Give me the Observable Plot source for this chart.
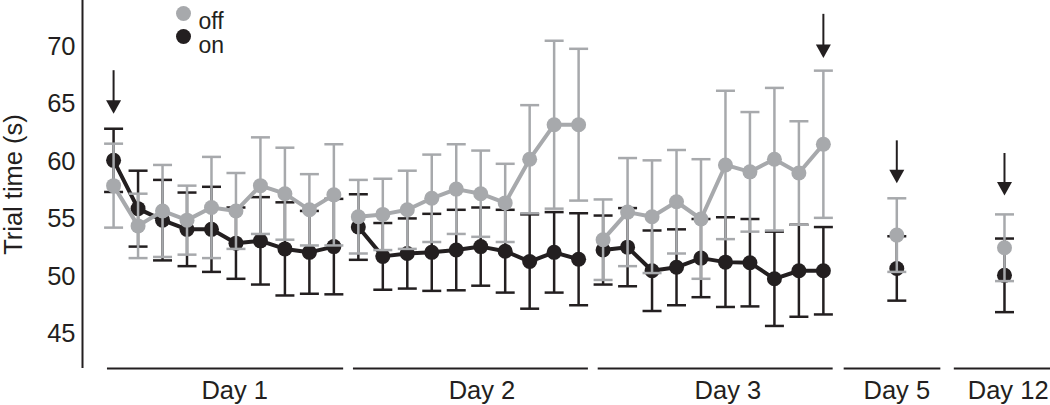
<!DOCTYPE html>
<html>
<head>
<meta charset="utf-8">
<script src="https://cdn.jsdelivr.net/npm/d3@7"></script>
<script src="https://cdn.jsdelivr.net/npm/@observablehq/plot@0.6"></script>
<style>
  html, body { margin: 0; padding: 0; background: #fff; }
  #chart { width: 1050px; height: 405px; }
</style>
</head>
<body>
<div id="chart"></div>
<script>
// ---- data ----
const dayNames = ["Day 1", "Day 2", "Day 3", "Day 5", "Day 12"];
const trialsPerDay = [10, 10, 10, 1, 1];
const trialX = [0, 1, 2, 3, 4, 5, 6, 7, 8, 9,
                10, 11, 12, 13, 14, 15, 16, 17, 18, 19,
                20, 21, 22, 23, 24, 25, 26, 27, 28, 29,
                32, 36.4];
const offMean = [57.9, 54.4, 55.7, 54.9, 56.0, 55.7, 57.9, 57.2, 55.8, 57.1,
                 55.2, 55.4, 55.8, 56.8, 57.6, 57.2, 56.4, 60.2, 63.2, 63.2,
                 53.2, 55.6, 55.2, 56.5, 55.0, 59.7, 59.1, 60.2, 59.0, 61.5,
                 53.6, 52.5];
const offSem = [3.65, 2.8, 4.0, 3.0, 4.4, 3.3, 4.2, 4.0, 3.1, 4.4,
                3.2, 3.1, 3.4, 3.8, 3.9, 3.75, 3.4, 4.7, 7.3, 6.6,
                3.5, 4.7, 4.9, 4.5, 5.2, 6.45, 5.2, 6.2, 4.5, 6.4,
                3.2, 2.9];
const onMean = [60.1, 55.9, 54.9, 54.1, 54.1, 52.9, 53.1, 52.4, 52.1, 52.6,
                54.3, 51.75, 52.0, 52.1, 52.3, 52.6, 52.2, 51.3, 52.1, 51.5,
                52.3, 52.55, 50.5, 50.8, 51.6, 51.25, 51.2, 49.8, 50.5, 50.5,
                50.7, 50.1];
const onSem = [2.75, 3.3, 3.5, 3.2, 3.7, 3.1, 3.8, 4.05, 3.6, 4.15,
               2.85, 2.9, 3.05, 3.35, 3.5, 3.4, 3.6, 4.1, 3.5, 4.0,
               3.0, 3.4, 3.5, 3.3, 3.4, 3.9, 3.8, 4.1, 4.0, 3.8,
               2.8, 3.2];
const daySegStart = [-0.25, 9.8, 19.8, 29.85, 34.35];
const daySegEnd = [9.4, 19.4, 29.4, 33.8, 38.3];
const dayLabelX = [4.95, 15.05, 25.1, 32.0, 36.55];
const arrowX = [0, 29, 32, 36.4];
const arrowTop = [67.2, 72.1, 61.1, 60.0];
const arrowTip = [64.15, 69.0, 58.1, 57.05];
const yTicks = [45, 50, 55, 60, 65, 70];
const seriesNames = ["off", "on"];
const yTitle = "Trial time (s)";

// ---- build tables ----
const dayOf = trialsPerDay.flatMap((n, i) => Array(n).fill(dayNames[i]));
const makeRows = (mean, sem) => trialX.map((x, i) => ({
  x, day: dayOf[i], mean: mean[i], lo: mean[i] - sem[i], hi: mean[i] + sem[i]
}));
const offRows = makeRows(offMean, offSem);
const onRows = makeRows(onMean, onSem);
const days = dayNames.map((name, i) => ({name, x1: daySegStart[i], x2: daySegEnd[i], lx: dayLabelX[i]}));
const arrows = arrowX.map((x, i) => ({x, top: arrowTop[i], tip: arrowTip[i]}));

const xDomain = [-1.27, 38.28];
const yDomain = [42, 74];
const GREY = "#a7a9ac";
const BLACK = "#231f20";
const FS = 25.5;
const LEGEND_FS = 23;

const capSymbol = {
  draw(ctx, size) {
    const r = Math.sqrt(size / Math.PI);
    ctx.moveTo(-r, 0);
    ctx.lineTo(r, 0);
  }
};
const headSymbol = {
  draw(ctx, size) {
    const r = Math.sqrt(size / Math.PI);
    ctx.moveTo(0, 0);
    ctx.lineTo(-r, -1.8 * r);
    ctx.lineTo(r, -1.8 * r);
    ctx.closePath();
  }
};

const seriesMarks = (rows, color) => [
  Plot.ruleX(rows, {x: "x", y1: "lo", y2: "hi", stroke: color, strokeWidth: 2.5}),
  Plot.dot(rows, {x: "x", y: "lo", symbol: capSymbol, r: 9.5, stroke: color, strokeWidth: 2.5, fill: "none"}),
  Plot.dot(rows, {x: "x", y: "hi", symbol: capSymbol, r: 9.5, stroke: color, strokeWidth: 2.5, fill: "none"}),
  Plot.line(rows, {x: "x", y: "mean", z: "day", stroke: color, strokeWidth: 4}),
  Plot.dot(rows, {x: "x", y: "mean", r: 7.5, fill: color, stroke: "none"})
];

const chart = Plot.plot({
  width: 1050,
  height: 405,
  marginLeft: 82,
  marginRight: 0,
  marginTop: 0,
  marginBottom: 37,
  style: {fontFamily: "'Liberation Sans', Arial, Helvetica, sans-serif", fontSize: FS + "px", color: BLACK, background: "#fff"},
  x: {domain: xDomain, axis: null},
  y: {domain: yDomain, axis: null},
  marks: [
    Plot.axisY({ticks: yTicks, tickSize: 0, tickPadding: 7, label: null, fontSize: FS}),
    Plot.ruleX([xDomain[0]], {stroke: BLACK, strokeWidth: 2}),
    Plot.text([yTitle], {text: d => d, frameAnchor: "left", dx: -69, rotate: -90, textAnchor: "middle", lineAnchor: "middle", fontSize: FS, fill: BLACK}),
    Plot.ruleY(days, {x1: "x1", x2: "x2", y: () => yDomain[0], stroke: BLACK, strokeWidth: 2}),
    Plot.text(days, {x: "lx", y: () => yDomain[0], dy: 22, text: "name", fontSize: FS, fill: BLACK, clip: false}),
    ...seriesMarks(onRows, BLACK),
    ...seriesMarks(offRows, GREY),
    Plot.ruleX(arrows, {x: "x", y1: "top", y2: "tip", dy: -8, stroke: BLACK, strokeWidth: 2}),
    Plot.dot(arrows, {x: "x", y: "tip", symbol: headSymbol, r: 7.5, fill: BLACK, stroke: "none"}),
    Plot.dot([seriesNames[0]], {frameAnchor: "top-left", dx: 101, dy: 13, r: 7.5, fill: GREY}),
    Plot.dot([seriesNames[1]], {frameAnchor: "top-left", dx: 101, dy: 36, r: 7.5, fill: BLACK}),
    Plot.text([seriesNames[0]], {frameAnchor: "top-left", dx: 116, dy: 12, text: d => d, textAnchor: "start", fontSize: LEGEND_FS, fill: BLACK}),
    Plot.text([seriesNames[1]], {frameAnchor: "top-left", dx: 116, dy: 36, text: d => d, textAnchor: "start", fontSize: LEGEND_FS, fill: BLACK})
  ]
});
document.getElementById("chart").appendChild(chart);
</script>
</body>
</html>
